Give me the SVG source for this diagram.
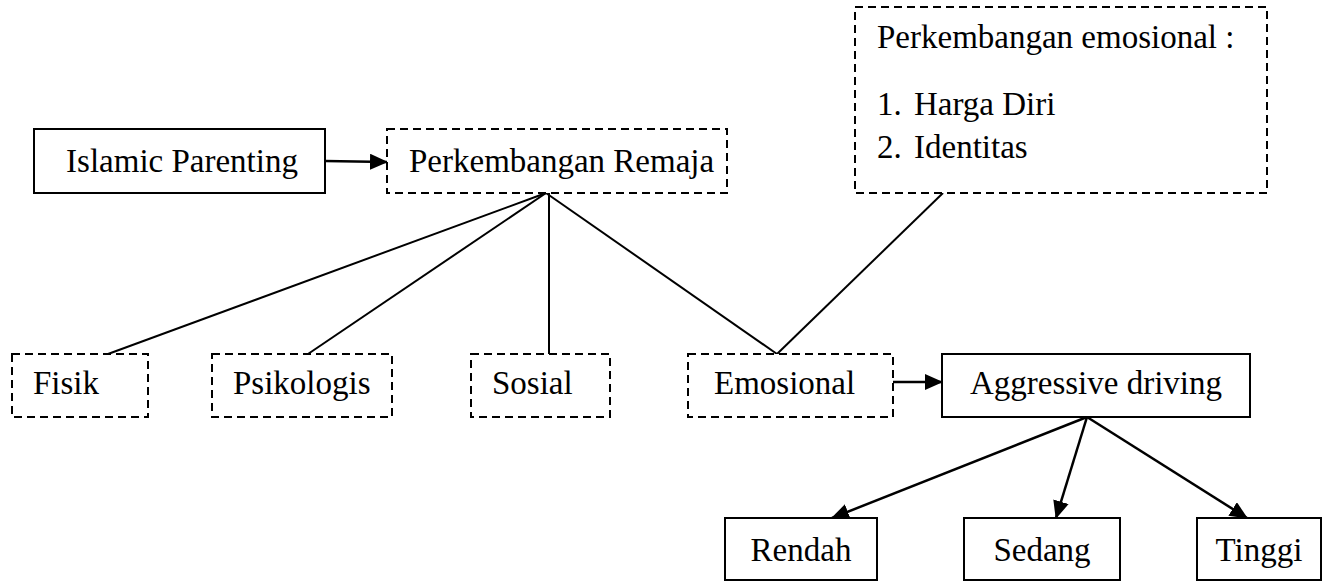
<svg xmlns="http://www.w3.org/2000/svg" width="1334" height="582" viewBox="0 0 1334 582">
<style>
.box{fill:#fff;stroke:#000;stroke-width:2}
.dash{fill:#fff;stroke:#000;stroke-width:2;stroke-dasharray:8 5}
.t{font-family:"Liberation Serif","Times New Roman",serif;font-size:33px;fill:#000}
.c{stroke:#000;stroke-width:2;fill:none}
.a{stroke:#000;stroke-width:2.5;fill:none;marker-end:url(#ah)}
</style>
<defs>
<marker id="ah" markerWidth="18" markerHeight="16" refX="17" refY="8" orient="auto" markerUnits="userSpaceOnUse">
<path d="M0,0 L18,8 L0,16 Z" fill="#000"/>
</marker>
</defs>
<g id="connectors">
<line class="a" x1="325" y1="161" x2="387" y2="162"/>
<line class="c" x1="546" y1="193" x2="108" y2="354"/>
<line class="c" x1="546" y1="193" x2="308" y2="354"/>
<line class="c" x1="549" y1="193" x2="549" y2="354"/>
<line class="c" x1="546" y1="193" x2="777" y2="354"/>
<line class="c" x1="943" y1="193" x2="777" y2="354"/>
<line class="a" x1="893" y1="382" x2="942" y2="382"/>
<line class="a" x1="1087" y1="417" x2="832" y2="518"/>
<line class="a" x1="1087" y1="417" x2="1056" y2="518"/>
<line class="a" x1="1087" y1="417" x2="1247" y2="518"/>
</g>
<g id="islamic"><rect class="box" x="34" y="129" width="291" height="64"/><text class="t" x="182" y="172" text-anchor="middle">Islamic Parenting</text></g>
<g id="remaja"><rect class="dash" x="387" y="129" width="340" height="64"/><text class="t" x="409" y="172">Perkembangan Remaja</text></g>
<g id="emo-note"><rect class="dash" x="855" y="7" width="412" height="186"/>
<text class="t" x="877" y="48">Perkembangan emosional :</text>
<text class="t" x="877" y="115">1.</text><text class="t" x="914" y="115">Harga Diri</text>
<text class="t" x="877" y="158">2.</text><text class="t" x="914" y="158">Identitas</text></g>
<g id="fisik"><rect class="dash" x="12" y="354" width="136" height="63"/><text class="t" x="33" y="394">Fisik</text></g>
<g id="psikologis"><rect class="dash" x="212" y="354" width="180" height="63"/><text class="t" x="233" y="394">Psikologis</text></g>
<g id="sosial"><rect class="dash" x="471" y="354" width="139" height="63"/><text class="t" x="492" y="394">Sosial</text></g>
<g id="emosional"><rect class="dash" x="688" y="354" width="205" height="63"/><text class="t" x="714" y="394">Emosional</text></g>
<g id="aggressive"><rect class="box" x="942" y="354" width="308" height="63"/><text class="t" x="1096" y="394" text-anchor="middle">Aggressive driving</text></g>
<g id="rendah"><rect class="box" x="725" y="518" width="152" height="62"/><text class="t" x="801" y="561" text-anchor="middle">Rendah</text></g>
<g id="sedang"><rect class="box" x="964" y="518" width="156" height="62"/><text class="t" x="1042" y="561" text-anchor="middle">Sedang</text></g>
<g id="tinggi"><rect class="box" x="1197" y="518" width="124" height="62"/><text class="t" x="1259" y="561" text-anchor="middle">Tinggi</text></g>
</svg>
